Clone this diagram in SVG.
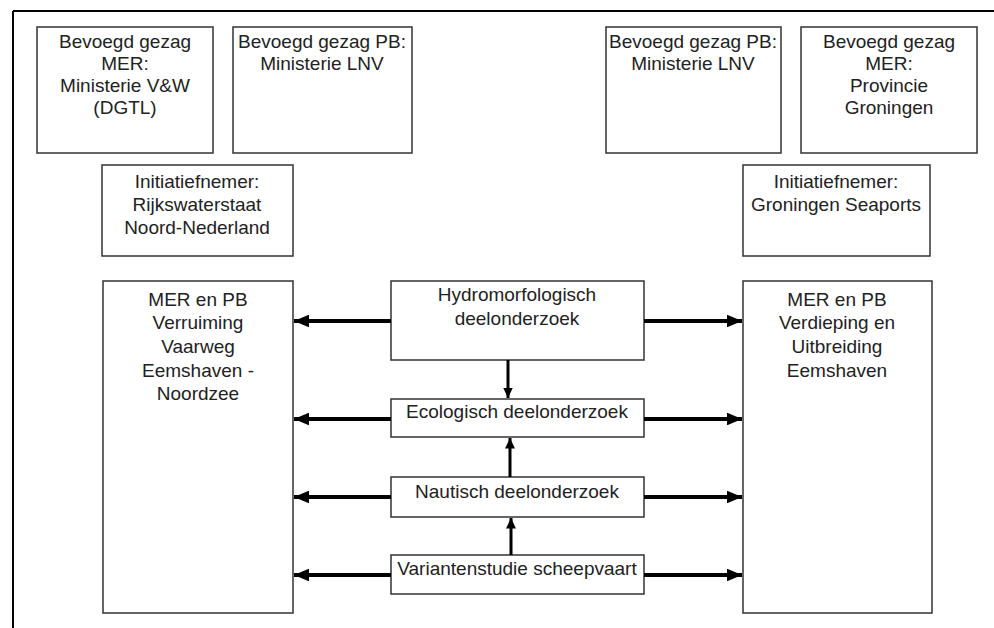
<svg xmlns="http://www.w3.org/2000/svg" width="994" height="628" viewBox="0 0 994 628">
<defs>
<style>
.box{fill:#fff;stroke:#333;stroke-width:1.5}
.t{font-family:"Liberation Sans",Arial,sans-serif;font-size:19px;fill:#222;text-anchor:middle}
.c{stroke:#000;stroke-width:4;fill:none}
.c2{stroke:#000;stroke-width:3;fill:none}
</style>
<marker id="ah" viewBox="0 0 10 10" refX="10" refY="5" markerWidth="3.8" markerHeight="3.2" orient="auto" markerUnits="strokeWidth" preserveAspectRatio="none">
<path d="M0,0 L10,5 L0,10 z" fill="#000"/>
</marker>
<marker id="ah2" viewBox="0 0 10 10" refX="10" refY="5" markerWidth="3.5" markerHeight="3.3" orient="auto" markerUnits="strokeWidth" preserveAspectRatio="none">
<path d="M0,0 L10,5 L0,10 z" fill="#000"/>
</marker>
</defs>
<rect x="0" y="0" width="994" height="628" fill="#fff"/>
<g id="frame">
<line x1="13" y1="11" x2="994" y2="11" stroke="#000" stroke-width="2"/>
<line x1="13" y1="11" x2="13" y2="628" stroke="#000" stroke-width="2"/>
</g>
<g id="bg-mer-vw">
<rect class="box" x="37" y="27" width="176" height="126"/>
<text class="t" x="125" y="48">Bevoegd gezag</text>
<text class="t" x="125" y="70">MER:</text>
<text class="t" x="125" y="92">Ministerie V&amp;W</text>
<text class="t" x="125" y="114">(DGTL)</text>
</g>
<g id="bg-pb-lnv-1">
<rect class="box" x="233" y="27" width="179" height="126"/>
<text class="t" x="322" y="48">Bevoegd gezag PB:</text>
<text class="t" x="322" y="70">Ministerie LNV</text>
</g>
<g id="bg-pb-lnv-2">
<rect class="box" x="606" y="27" width="175" height="126"/>
<text class="t" x="693" y="48">Bevoegd gezag PB:</text>
<text class="t" x="693" y="70">Ministerie LNV</text>
</g>
<g id="bg-mer-gron">
<rect class="box" x="801" y="27" width="176" height="126"/>
<text class="t" x="889" y="48">Bevoegd gezag</text>
<text class="t" x="889" y="70">MER:</text>
<text class="t" x="889" y="92">Provincie</text>
<text class="t" x="889" y="114">Groningen</text>
</g>
<g id="init-rws">
<rect class="box" x="102" y="165" width="191" height="91"/>
<text class="t" x="197" y="188">Initiatiefnemer:</text>
<text class="t" x="197" y="211">Rijkswaterstaat</text>
<text class="t" x="197" y="234">Noord-Nederland</text>
</g>
<g id="init-gs">
<rect class="box" x="743" y="165" width="187" height="91"/>
<text class="t" x="836" y="188">Initiatiefnemer:</text>
<text class="t" x="836" y="211">Groningen Seaports</text>
</g>
<g id="mer-vaarweg">
<rect class="box" x="103" y="281" width="190" height="332"/>
<text class="t" x="198" y="306">MER en PB</text>
<text class="t" x="198" y="329">Verruiming</text>
<text class="t" x="198" y="353">Vaarweg</text>
<text class="t" x="198" y="377">Eemshaven -</text>
<text class="t" x="198" y="400">Noordzee</text>
</g>
<g id="mer-eemshaven">
<rect class="box" x="743" y="281" width="189" height="332"/>
<text class="t" x="837" y="306">MER en PB</text>
<text class="t" x="837" y="329">Verdieping en</text>
<text class="t" x="837" y="353">Uitbreiding</text>
<text class="t" x="837" y="377">Eemshaven</text>
</g>
<g id="hydro">
<rect class="box" x="391" y="281" width="253" height="79"/>
<text class="t" x="517" y="301">Hydromorfologisch</text>
<text class="t" x="517" y="325">deelonderzoek</text>
</g>
<g id="eco">
<rect class="box" x="391" y="399" width="253" height="38"/>
<text class="t" x="517" y="418">Ecologisch deelonderzoek</text>
</g>
<g id="naut">
<rect class="box" x="391" y="477" width="253" height="40"/>
<text class="t" x="517" y="498">Nautisch deelonderzoek</text>
</g>
<g id="varianten">
<rect class="box" x="391" y="555" width="253" height="39"/>
<text class="t" x="517" y="575">Variantenstudie scheepvaart</text>
</g>
<g id="connectors">
<line class="c" x1="391" y1="321" x2="294" y2="321" marker-end="url(#ah)"/>
<line class="c" x1="391" y1="419" x2="294" y2="419" marker-end="url(#ah)"/>
<line class="c" x1="391" y1="497" x2="294" y2="497" marker-end="url(#ah)"/>
<line class="c" x1="391" y1="575" x2="294" y2="575" marker-end="url(#ah)"/>
<line class="c" x1="644" y1="321" x2="742" y2="321" marker-end="url(#ah)"/>
<line class="c" x1="644" y1="419" x2="742" y2="419" marker-end="url(#ah)"/>
<line class="c" x1="644" y1="497" x2="742" y2="497" marker-end="url(#ah)"/>
<line class="c" x1="644" y1="575" x2="742" y2="575" marker-end="url(#ah)"/>
<line class="c2" x1="508" y1="360" x2="508" y2="398" marker-end="url(#ah2)"/>
<line class="c2" x1="510" y1="477" x2="510" y2="438" marker-end="url(#ah2)"/>
<line class="c2" x1="511" y1="555" x2="511" y2="518" marker-end="url(#ah2)"/>
</g>
</svg>
